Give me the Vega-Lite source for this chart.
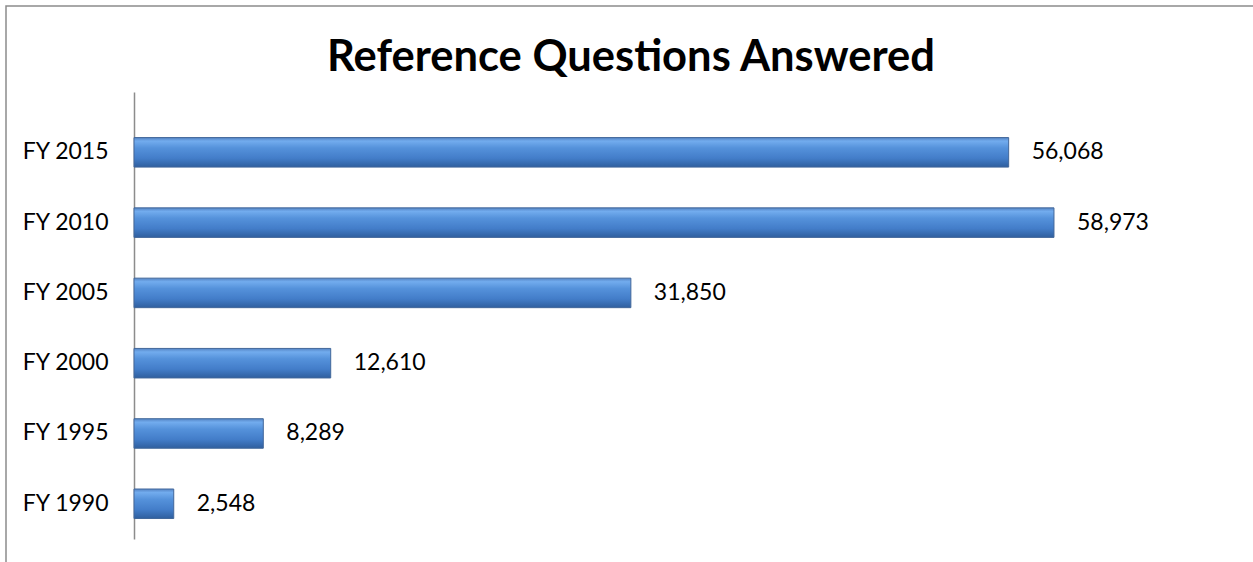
{
  "$schema": "https://vega.github.io/schema/vega-lite/v6.json",
  "autosize": {"type": "none"},
  "padding": {"left": 6, "top": 6, "right": -5, "bottom": -5},
  "width": 1252,
  "height": 561,
  "background": "white",
  "title": {
    "text": "Reference Questions Answered",
    "font": "Lato",
    "fontSize": 43.5,
    "fontWeight": "bold",
    "color": "#000000",
    "anchor": "start",
    "frame": "group",
    "baseline": "alphabetic",
    "offset": -66,
    "dy": 42,
    "dx": 321
  },
  "config": {
    "view": {"stroke": "#8c8c8c", "strokeWidth": 1.5}
  },
  "data": {
    "values": [
      {"year": "FY 2015", "questions": 56068},
      {"year": "FY 2010", "questions": 58973},
      {"year": "FY 2005", "questions": 31850},
      {"year": "FY 2000", "questions": 12610},
      {"year": "FY 1995", "questions": 8289},
      {"year": "FY 1990", "questions": 2548}
    ]
  },
  "encoding": {
    "y": {
      "field": "year",
      "type": "nominal",
      "sort": null,
      "scale": {"range": [86, 533], "paddingInner": 0.58, "paddingOuter": 0.47, "align": 0.69},
      "axis": {
        "title": null,
        "offset": -128,
        "ticks": false,
        "labelPadding": 26,
        "labelFont": "Lato",
        "labelFontSize": 23,
        "labelColor": "#000000",
        "domainColor": "#8c8c8c",
        "domainWidth": 1.5
      }
    },
    "x": {
      "field": "questions",
      "type": "quantitative",
      "scale": {"domain": [0, 70000], "range": [128, 1220], "nice": false, "zero": true},
      "axis": null
    }
  },
  "layer": [
    {
      "mark": {
        "type": "bar",
        "stroke": "#42679a",
        "strokeWidth": 1,
        "color": {
          "gradient": "linear",
          "x1": 0, "y1": 0, "x2": 0, "y2": 1,
          "stops": [
            {"offset": 0, "color": "#5584c4"},
            {"offset": 0.12, "color": "#72acee"},
            {"offset": 0.35, "color": "#5592db"},
            {"offset": 0.7, "color": "#437dc9"},
            {"offset": 1, "color": "#2f5f9e"}
          ]
        }
      }
    },
    {
      "mark": {
        "type": "text",
        "align": "left",
        "baseline": "middle",
        "dx": 23,
        "font": "Lato",
        "fontSize": 23,
        "color": "#000000"
      },
      "encoding": {
        "text": {"field": "questions", "type": "quantitative", "format": ","}
      }
    }
  ]
}
